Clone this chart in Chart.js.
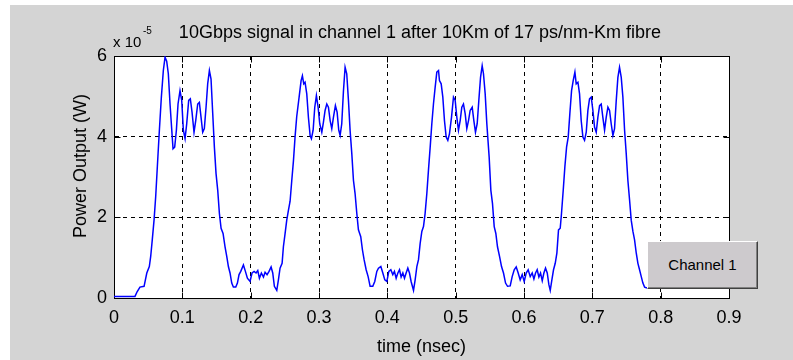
<!DOCTYPE html>
<html>
<head>
<meta charset="utf-8">
<script src="https://cdn.jsdelivr.net/npm/chart.js@4.4.1/dist/chart.umd.min.js"></script>
<style>
html,body{margin:0;padding:0;background:#ffffff;width:793px;height:360px;overflow:hidden;}
body{position:relative;font-family:"Liberation Sans",Arial,Helvetica,sans-serif;color:#000;}
#fig{position:absolute;left:10px;top:5px;width:783px;height:355px;background:#d4d4d4;}
#c{position:absolute;left:0;top:0;}
.txt{position:absolute;white-space:nowrap;color:#000;}
#title{left:420px;top:23px;font-size:18px;line-height:18px;transform:translateX(-50%);}
#scaleBase{left:113px;top:34px;font-size:15px;line-height:15px;}
#scaleExp{left:143px;top:26px;font-size:10px;line-height:10px;}
#ylab{left:80px;top:166px;font-size:18px;line-height:18px;transform:translate(-50%,-50%) rotate(-90deg);}
#legendBox{position:absolute;left:647px;top:241px;width:111px;height:48px;box-sizing:border-box;
  background:#cdcacd;border-top:1px solid #ffffff;border-left:1px solid #ffffff;
  border-right:1px solid #404040;border-bottom:1px solid #404040;box-shadow:inset -1px -1px 0 #808080;
  font-size:15px;line-height:46px;text-align:center;color:#000;}
</style>
</head>
<body>
<div id="fig"><canvas id="c" width="783" height="355"></canvas></div>
<div class="txt" id="title">10Gbps signal in channel 1 after 10Km of 17 ps/nm-Km fibre</div>
<div class="txt" id="scaleBase">x 10</div>
<div class="txt" id="scaleExp">-5</div>
<div class="txt" id="ylab">Power Output (W)</div>
<div id="legendBox">Channel 1</div>
<script>
// ---- data (time in ns, power in units of 1e-5 W) ----
const timeNs = [
0, 0.0307, 0.034, 0.038, 0.044, 0.048, 0.0517, 0.0537, 0.056, 0.0586, 0.061, 0.0634, 0.0664, 0.0693, 0.0722, 0.0747, 0.0771, 0.0795, 0.082, 0.0844,
0.0864, 0.0888, 0.0913, 0.0937, 0.0966, 0.0991, 0.1015, 0.104, 0.1064, 0.1093, 0.1117, 0.1142, 0.1171, 0.1196, 0.1225, 0.1249, 0.1274, 0.1298, 0.1322, 0.1347,
0.1371, 0.1396, 0.142, 0.1445, 0.1469, 0.1493, 0.1518, 0.1542, 0.1567, 0.1596, 0.1625, 0.165, 0.1674, 0.1698, 0.1723, 0.1747, 0.1782, 0.1806, 0.183, 0.1855,
0.1894, 0.1923, 0.1952, 0.1991, 0.202, 0.205, 0.2079, 0.2104, 0.2128, 0.2157, 0.2187, 0.2211, 0.224, 0.2269, 0.2299, 0.2323, 0.2347, 0.2382, 0.2406, 0.243,
0.246, 0.2479, 0.2504, 0.2528, 0.2553, 0.2577, 0.2601, 0.2626, 0.265, 0.2674, 0.2709, 0.2738, 0.2757, 0.2777, 0.2796, 0.2821, 0.2845, 0.287, 0.2889, 0.2914,
0.2938, 0.2962, 0.2987, 0.3011, 0.3041, 0.3065, 0.3089, 0.3114, 0.3138, 0.3163, 0.3187, 0.3211, 0.324, 0.3265, 0.3289, 0.3309, 0.3333, 0.3358, 0.3382, 0.3406,
0.3431, 0.3455, 0.348, 0.3504, 0.3528, 0.3553, 0.3577, 0.3611, 0.3636, 0.366, 0.369, 0.3719, 0.3748, 0.3787, 0.3816, 0.3846, 0.387, 0.3905, 0.3934, 0.3963,
0.3993, 0.4022, 0.4051, 0.408, 0.4104, 0.4129, 0.4154, 0.4178, 0.4202, 0.4227, 0.4251, 0.4275, 0.43, 0.4324, 0.4348, 0.4383, 0.4407, 0.4432, 0.4456, 0.448,
0.4505, 0.4529, 0.4553, 0.4578, 0.4602, 0.4627, 0.4651, 0.4675, 0.47, 0.4724, 0.4749, 0.4763, 0.4788, 0.4812, 0.4836, 0.4861, 0.4885, 0.4909, 0.4939, 0.4968,
0.4993, 0.5017, 0.5041, 0.5066, 0.509, 0.5114, 0.5139, 0.5163, 0.5188, 0.5212, 0.5242, 0.5266, 0.529, 0.5315, 0.5339, 0.5364, 0.5388, 0.5407, 0.5432, 0.5456,
0.549, 0.5515, 0.5539, 0.5564, 0.5588, 0.5612, 0.5642, 0.5671, 0.57, 0.573, 0.5759, 0.5798, 0.5827, 0.5857, 0.5886, 0.5915, 0.5944, 0.5974, 0.6003, 0.6032,
0.6061, 0.6091, 0.612, 0.6145, 0.6169, 0.6193, 0.6218, 0.6242, 0.6267, 0.6291, 0.6315, 0.634, 0.6364, 0.6384, 0.6408, 0.6432, 0.6457, 0.6481, 0.6505, 0.653,
0.6549, 0.6574, 0.6598, 0.6623, 0.6647, 0.6671, 0.6696, 0.672, 0.6745, 0.6764, 0.6789, 0.6813, 0.6837, 0.6862, 0.6886, 0.6911, 0.6935, 0.6959, 0.6984, 0.7008,
0.7032, 0.7057, 0.7081, 0.7106, 0.713, 0.7154, 0.7179, 0.7203, 0.7228, 0.7252, 0.7276, 0.7301, 0.7325, 0.735, 0.7374, 0.7398, 0.7423, 0.7447, 0.7472, 0.7496,
0.752, 0.7545, 0.7569, 0.7594, 0.7618, 0.7643, 0.7667, 0.7691, 0.7716, 0.774, 0.7765, 0.78
];
const powerE5 = [
0.04, 0.04, 0.16, 0.27, 0.29, 0.62, 0.78, 1.03, 1.44, 1.93, 2.51, 3.25, 4.16, 4.98, 5.64, 5.97, 5.87, 5.56, 4.81, 4.2,
3.7, 3.74, 4.16, 4.81, 5.14, 4.9, 4.16, 3.95, 4.32, 4.9, 4.94, 4.61, 4.11, 4.4, 4.81, 4.85, 4.48, 4.11, 4.2, 4.73,
5.31, 5.64, 5.43, 4.57, 3.74, 3.09, 2.67, 2.1, 1.73, 1.6, 1.27, 1.03, 0.78, 0.62, 0.37, 0.27, 0.27, 0.37, 0.58, 0.66,
0.82, 0.66, 0.49, 0.41, 0.62, 0.66, 0.62, 0.68, 0.49, 0.62, 0.52, 0.64, 0.58, 0.66, 0.77, 0.62, 0.29, 0.19, 0.45, 0.74,
0.86, 1.27, 1.6, 1.93, 2.18, 2.4, 2.9, 3.4, 4.0, 4.5, 4.98, 5.39, 5.51, 5.31, 5.35, 5.06, 4.48, 4.03, 3.95, 4.16,
4.73, 5.02, 4.73, 4.32, 4.11, 4.36, 4.65, 4.81, 4.73, 4.4, 4.2, 4.48, 4.77, 4.61, 4.16, 4.03, 4.32, 5.14, 5.72, 5.56,
4.9, 4.16, 3.58, 2.92, 2.59, 2.1, 1.69, 1.52, 1.19, 0.95, 0.7, 0.53, 0.29, 0.29, 0.41, 0.66, 0.74, 0.78, 0.62, 0.45,
0.41, 0.66, 0.7, 0.58, 0.66, 0.49, 0.62, 0.7, 0.52, 0.62, 0.49, 0.62, 0.74, 0.62, 0.41, 0.19, 0.45, 0.78, 0.95, 1.35,
1.65, 1.77, 2.1, 2.59, 3.17, 3.74, 4.32, 4.81, 5.23, 5.6, 5.64, 5.39, 5.31, 4.98, 4.4, 3.99, 3.91, 4.07, 4.48, 4.98,
4.9, 4.48, 4.16, 4.4, 4.73, 4.81, 4.57, 4.2, 4.4, 4.65, 4.73, 4.4, 4.11, 4.32, 4.9, 5.47, 5.76, 5.56, 5.06, 4.32,
3.5, 2.67, 2.34, 1.77, 1.6, 1.27, 1.03, 0.78, 0.62, 0.37, 0.29, 0.3, 0.53, 0.7, 0.77, 0.62, 0.45, 0.58, 0.41, 0.62,
0.7, 0.53, 0.62, 0.47, 0.62, 0.7, 0.52, 0.62, 0.43, 0.62, 0.74, 0.62, 0.33, 0.19, 0.45, 0.7, 0.86, 1.11, 1.69, 1.73,
2.1, 2.67, 3.25, 3.74, 3.99, 4.57, 5.14, 5.39, 5.6, 5.31, 5.35, 5.06, 4.4, 3.99, 3.91, 4.11, 4.65, 4.94, 4.98, 4.65,
4.24, 4.11, 4.48, 4.77, 4.81, 4.48, 4.16, 4.48, 4.73, 4.65, 4.32, 4.03, 4.2, 4.9, 5.47, 5.72, 5.47, 4.98, 4.16, 3.58,
2.92, 2.43, 1.93, 1.65, 1.44, 1.11, 0.86, 0.7, 0.53, 0.37, 0.27, 0.25
];
const xTicks = [0, 0.1, 0.2, 0.3, 0.4, 0.5, 0.6, 0.7, 0.8, 0.9];
const xTickLabels = ['0', '0.1', '0.2', '0.3', '0.4', '0.5', '0.6', '0.7', '0.8', '0.9'];
const yTicks = [0, 2, 4, 6];
const yTickLabels = ['0', '2', '4', '6'];
const seriesName = 'Channel 1';

const FONT = '"Liberation Sans", Arial, Helvetica, sans-serif';
const TICK_LEN = 6;

const framePlugin = {
  id: 'matlabFrame',
  beforeDraw(chart) {
    const {ctx, chartArea: a} = chart;
    ctx.save();
    ctx.fillStyle = '#ffffff';
    ctx.fillRect(a.left, a.top, a.right - a.left, a.bottom - a.top);
    ctx.restore();
  },
  beforeDatasetsDraw(chart) {
    const {ctx, chartArea: a, scales} = chart;
    const L = Math.round(a.left) + 0.5, R = Math.round(a.right) + 0.5;
    const T = Math.round(a.top) + 0.5, B = Math.round(a.bottom) + 0.5;
    ctx.save();
    ctx.setLineDash([]);
    ctx.strokeStyle = '#000';
    ctx.lineWidth = 1;
    ctx.strokeRect(L, T, R - L, B - T);
    ctx.beginPath();
    xTicks.forEach(v => {
      const px = Math.round(scales.x.getPixelForValue(v)) + 0.5;
      ctx.moveTo(px, B); ctx.lineTo(px, B - TICK_LEN);
      ctx.moveTo(px, T); ctx.lineTo(px, T + TICK_LEN);
    });
    yTicks.forEach(v => {
      const py = Math.round(scales.y.getPixelForValue(v)) + 0.5;
      ctx.moveTo(L, py); ctx.lineTo(L + TICK_LEN, py);
      ctx.moveTo(R, py); ctx.lineTo(R - TICK_LEN, py);
    });
    ctx.stroke();
    ctx.restore();
  }
};

new Chart(document.getElementById('c'), {
  type: 'line',
  data: {
    datasets: [{
      label: seriesName,
      data: timeNs.map((t, i) => ({x: t, y: powerE5[i]})),
      borderColor: '#0000ff',
      borderWidth: 1.5,
      pointRadius: 0,
      fill: false,
      tension: 0
    }]
  },
  options: {
    responsive: false,
    animation: false,
    devicePixelRatio: 1,
    layout: {padding: {left: 0, top: 51, right: 64, bottom: 0}},
    plugins: {legend: {display: false}, tooltip: {enabled: false}, title: {display: false}},
    scales: {
      x: {
        type: 'linear', min: 0, max: 0.9,
        afterFit(s) { s.height = 62; },
        afterBuildTicks(s) { s.ticks = xTicks.map(v => ({value: v})); },
        ticks: {
          callback: (v, i) => xTickLabels[i],
          color: '#000', font: {family: FONT, size: 18}, padding: 9,
          maxRotation: 0, minRotation: 0, autoSkip: false
        },
        grid: {color: '#000', lineWidth: 1, drawTicks: false},
        border: {display: true, color: '#000', width: 1, dash: [4, 4]},
        title: {display: true, text: 'time (nsec)', color: '#000',
                font: {family: FONT, size: 18, lineHeight: 1.2}, padding: {top: 0, bottom: 2}}
      },
      y: {
        type: 'linear', min: 0, max: 6,
        afterFit(s) { s.width = 104; },
        afterBuildTicks(s) { s.ticks = yTicks.map(v => ({value: v})); },
        ticks: {
          callback: (v, i) => yTickLabels[i],
          color: '#000', font: {family: FONT, size: 18}, padding: 7
        },
        grid: {color: '#000', lineWidth: 1, drawTicks: false},
        border: {display: true, color: '#000', width: 1, dash: [4, 4]}
      }
    }
  },
  plugins: [framePlugin]
});
</script>
</body>
</html>
